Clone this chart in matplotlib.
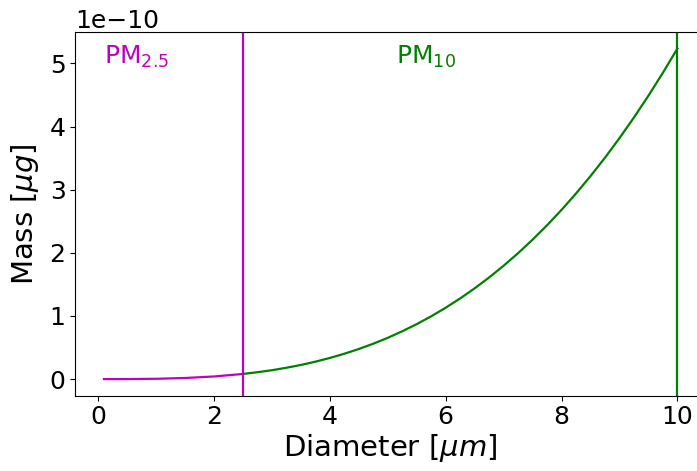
import numpy as np
import matplotlib.pyplot as plt

# particle diameter [um] and mass [ug] (x1e-10) along each size range
d_pm25 = [0.1, 0.5, 1.0, 1.5, 2.0, 2.5]
m_pm25 = [0.0000052, 0.00065, 0.0052, 0.0177, 0.0419, 0.0818]

d_pm10 = [2.5, 2.75, 3.0, 3.25, 3.5, 3.75, 4.0, 4.25, 4.5, 4.75, 5.0,
          5.25, 5.5, 5.75, 6.0, 6.25, 6.5, 6.75, 7.0, 7.25, 7.5, 7.75,
          8.0, 8.25, 8.5, 8.75, 9.0, 9.25, 9.5, 9.75, 10.0]
m_pm10 = [0.0818, 0.109, 0.141, 0.180, 0.224, 0.276, 0.335, 0.402, 0.477,
          0.561, 0.654, 0.758, 0.871, 0.995, 1.131, 1.278, 1.438, 1.610,
          1.796, 1.995, 2.209, 2.437, 2.681, 2.940, 3.216, 3.507, 3.817,
          4.144, 4.489, 4.853, 5.236]

cut_pm25 = 2.5
cut_pm10 = 10.0

scale = 1e-10

fig = plt.figure(figsize=(6.97, 4.71), dpi=100)
ax = fig.add_axes([0.108, 0.16, 0.905, 0.772])

ax.plot(d_pm25, np.array(m_pm25) * scale, color="m", linewidth=1.6)
ax.plot(d_pm10, np.array(m_pm10) * scale, color="g", linewidth=1.6)
ax.axvline(cut_pm25, color="m", linewidth=1.6)
ax.axvline(cut_pm10, color="g", linewidth=1.6)

ax.text(0.1, 5e-10, "PM$_{2.5}$", color="m", fontsize=18)
ax.text(5.15, 5e-10, "PM$_{10}$", color="g", fontsize=18)

ax.set_xlabel(r"Diameter [$\mu m$]", fontsize=21, labelpad=2)
ax.set_ylabel(r"Mass [$\mu g$]", fontsize=21, labelpad=6)
ax.tick_params(labelsize=18)
ax.yaxis.get_offset_text().set_fontsize(18)
ax.yaxis.get_offset_text().set_y(0.985)

plt.savefig("out.png", dpi=100)
